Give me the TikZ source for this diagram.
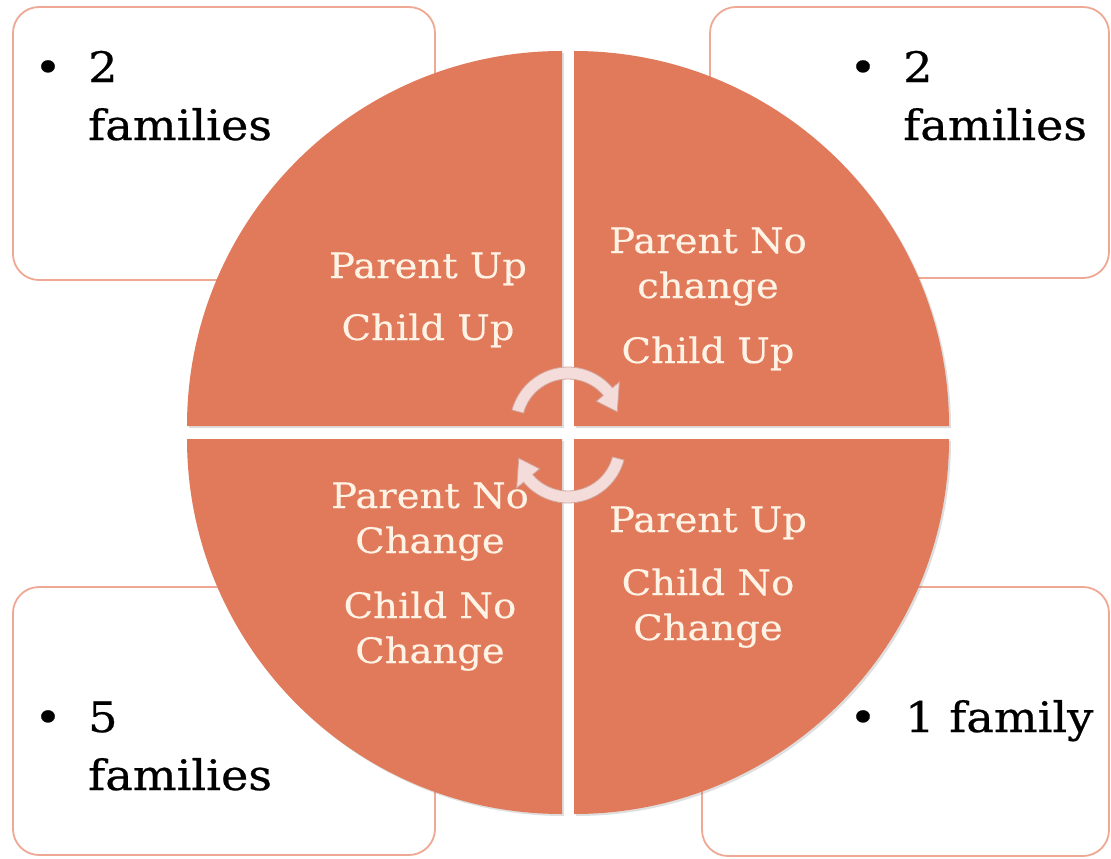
\documentclass[tikz,border=0pt]{standalone}
\usepackage{fontspec}
\newfontfamily\dvfont{DejaVu Serif}[FakeStretch=1.1,FakeBold=0.6]
\newfontfamily\dvqfont{DejaVu Serif}[FakeStretch=1.1,FakeBold=0.4]
\usetikzlibrary{calc,shadows}
\definecolor{quadfill}{RGB}{224,122,90}
\definecolor{boxline}{RGB}{238,168,148}
\definecolor{quadtext}{RGB}{255,243,230}
\definecolor{arrfill}{RGB}{243,220,217}
\definecolor{arrline}{RGB}{212,165,156}
\tikzset{
  quad/.style={fill=quadfill, draw=none, drop shadow={opacity=0.25, shadow xshift=2pt, shadow yshift=-2pt}},
  infobox/.style={draw=boxline, line width=1.8pt, fill=white, rounded corners=26pt},
  boxtxt/.style={font=\dvfont\fontsize{42}{50}\selectfont, text=black, inner sep=0pt, anchor=base west},
  bullettxt/.style={font=\dvfont\fontsize{42}{50}\selectfont, text=black, inner sep=0pt, anchor=base},
  quadtxt/.style={font=\dvqfont\fontsize{35}{42}\selectfont, text=quadtext, inner sep=0pt, anchor=base},
  cycarrow/.style={fill=arrfill, draw=arrline, line width=0.8pt}
}
\begin{document}
\begin{tikzpicture}[x=1pt,y=-1pt]
\useasboundingbox (0,0) rectangle (1111,859);
\fill[white] (0,0) rectangle (1111,859);

% corner boxes
\draw[infobox] (13,7) rectangle (435,280);
\draw[infobox] (710,7) rectangle (1109,278);
\draw[infobox] (13,587) rectangle (435,855);
\draw[infobox] (702,587) rectangle (1109,856);

% box texts
\node[bullettxt] (tlb) at (48,82) {•};
\node[boxtxt] (tl1) at (88,82) {2};
\node[boxtxt] (tl2) at (88,140) {families};
\node[bullettxt] (trb) at (863,82) {•};
\node[boxtxt] (tr1) at (903,82) {2};
\node[boxtxt] (tr2) at (903,140) {families};
\node[bullettxt] (blb) at (48,732) {•};
\node[boxtxt] (bl1) at (88,732) {5};
\node[boxtxt] (bl2) at (88,790) {families};
\node[bullettxt] (brb) at (863,732) {•};
\node[boxtxt] (br1) at (905,732) {1 family};

% quadrants
\path[quad] (562,426) -- (187,426) arc[start angle=180, end angle=270, radius=375] -- cycle;
\path[quad] (574,426) -- (574,51) arc[start angle=270, end angle=360, radius=375] -- cycle;
\path[quad] (574,439) -- (949,439) arc[start angle=0, end angle=90, radius=375] -- cycle;
\path[quad] (562,439) -- (562,814) arc[start angle=90, end angle=180, radius=375] -- cycle;

% quadrant texts
\node[quadtxt] (q1a) at (428,278) {Parent Up};
\node[quadtxt] (q1b) at (428,340) {Child Up};
\node[quadtxt] (q2a) at (708,253) {Parent No};
\node[quadtxt] (q2b) at (708,298) {change};
\node[quadtxt] (q2c) at (708,363) {Child Up};
\node[quadtxt] (q3a) at (430,508) {Parent No};
\node[quadtxt] (q3b) at (430,553) {Change};
\node[quadtxt] (q3c) at (430,618) {Child No};
\node[quadtxt] (q3d) at (430,663) {Change};
\node[quadtxt] (q4a) at (708,532) {Parent Up};
\node[quadtxt] (q4b) at (708,595) {Child No};
\node[quadtxt] (q4c) at (708,640) {Change};

% cycle arrows
\coordinate (c1) at (568,425);
\coordinate (c2) at (568,445);
\draw[cycarrow] ($(c1)+(195:58)$) arc[start angle=195, end angle=320, radius=58]
  -- ($(c1)+(320:67)$) -- ($(c1)+(345:51)$) -- ($(c1)+(320:37)$) -- ($(c1)+(320:46)$)
  arc[start angle=320, end angle=195, radius=46] -- cycle;
\draw[cycarrow] ($(c2)+(15:58)$) arc[start angle=15, end angle=140, radius=58]
  -- ($(c2)+(140:67)$) -- ($(c2)+(165:51)$) -- ($(c2)+(140:37)$) -- ($(c2)+(140:46)$)
  arc[start angle=140, end angle=15, radius=46] -- cycle;
\end{tikzpicture}
\end{document}
